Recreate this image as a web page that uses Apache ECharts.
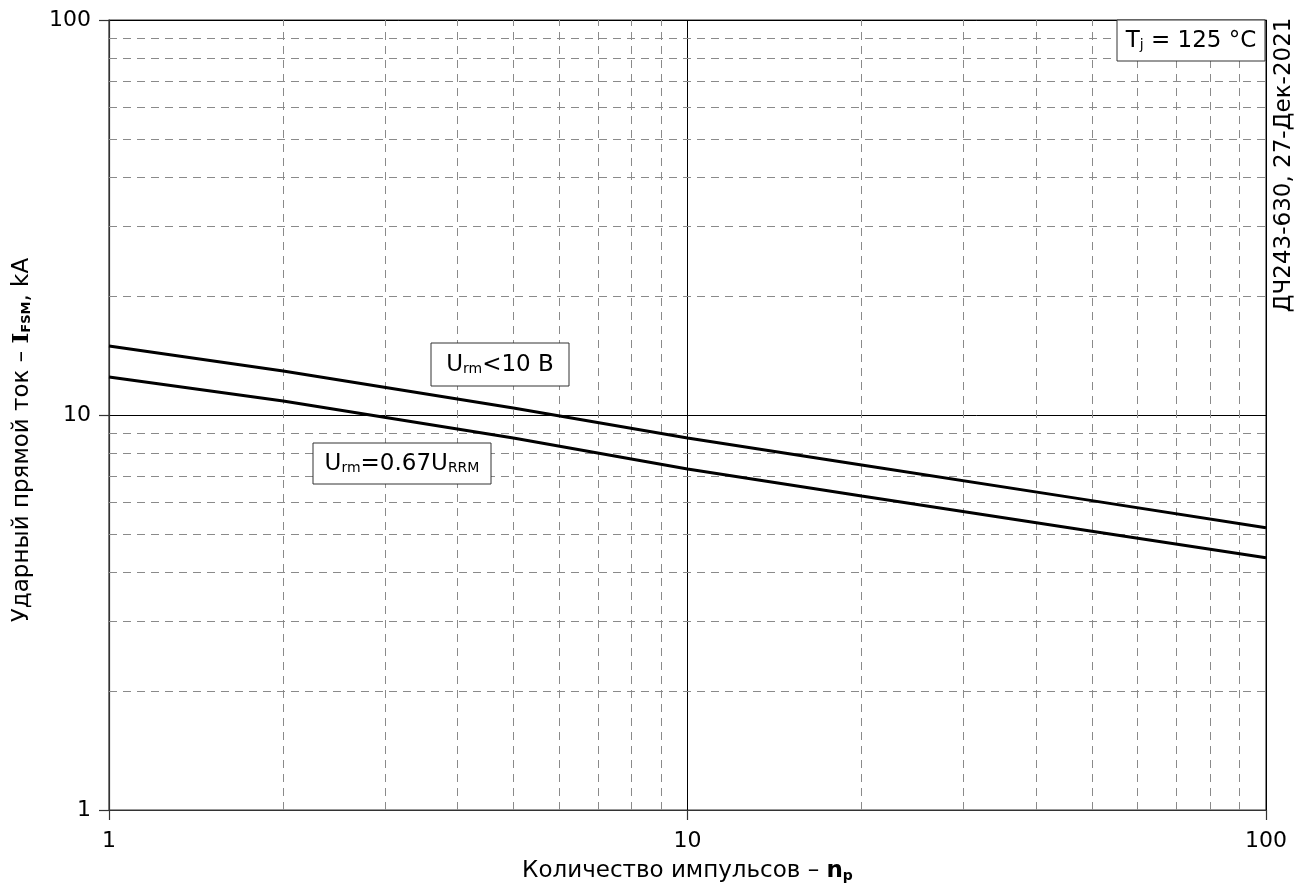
<!DOCTYPE html>
<html>
<head>
<meta charset="utf-8">
<script src="https://cdn.jsdelivr.net/npm/echarts@6/dist/echarts.min.js"></script>
<style>
html,body{margin:0;padding:0;background:#fff;}
#chart{width:1309px;height:896px;}
</style>
</head>
<body>
<div id="chart"></div>
<script>
// Data
var pulses = [1, 2, 5, 10, 20, 50, 100];
var iLow = [14.95, 12.92, 10.42, 8.75, 7.47, 6.07, 5.18];    // Urm < 10 V
var iRated = [12.48, 10.85, 8.75, 7.30, 6.24, 5.08, 4.35];   // Urm = 0.67 URRM
var minorTicks = [2, 3, 4, 5, 6, 7, 8, 9, 20, 30, 40, 50, 60, 70, 80, 90];
var xTickLabels = ['1', '10', '100'];
var yTickLabels = ['1', '10', '100'];

var FONT = 'DejaVu Sans';
var FS = 23;
var chart = echarts.init(document.getElementById('chart'));

function pairs(xs, ys) { return xs.map(function (x, i) { return [x, ys[i]]; }); }

var minorLines = [];
minorTicks.forEach(function (v) { minorLines.push({ xAxis: v }); });
minorTicks.forEach(function (v) { minorLines.push({ yAxis: v }); });

var subStyle = { fontFamily: FONT, fontSize: 14, fill: '#000', verticalAlign: 'bottom', padding: [9, 0, 0, 0] };
var mainStyle = { fontFamily: FONT, fontSize: FS, fill: '#000' };

var option = {
  animation: false,
  backgroundColor: '#fff',
  grid: { left: 109, right: 43, top: 20, bottom: 86, show: true, borderColor: '#333', borderWidth: 1.2, backgroundColor: 'transparent' },
  xAxis: {
    type: 'log', logBase: 10, min: 1, max: 100,
    axisLine: { show: true, lineStyle: { color: '#333', width: 1.2 } },
    axisTick: { show: true, length: 10, lineStyle: { color: '#333', width: 1.2 } },
    minorTick: { show: false },
    splitLine: { show: true, lineStyle: { color: '#000', width: 1 } },
    axisLabel: { fontFamily: FONT, fontSize: 22, color: '#000', margin: 20,
      formatter: function (v) { var s = String(Math.round(v)); return xTickLabels.indexOf(s) >= 0 ? s : ''; } },
    name: '{t|Количество импульсов – }{b|n}{s|p}',
    nameLocation: 'middle', nameGap: 50,
    nameTextStyle: { fontFamily: FONT, fontSize: FS, color: '#000',
      rich: {
        t: { fontFamily: FONT, fontSize: FS, color: '#000' },
        b: { fontFamily: FONT, fontSize: FS, fontWeight: 'bold', color: '#000' },
        s: { fontFamily: FONT, fontSize: 14, fontWeight: 'bold', color: '#000', verticalAlign: 'bottom', padding: [9, 0, 0, 0] }
      } }
  },
  yAxis: {
    type: 'log', logBase: 10, min: 1, max: 100,
    axisLine: { show: true, lineStyle: { color: '#333', width: 1.2 } },
    axisTick: { show: true, length: 10, lineStyle: { color: '#333', width: 1.2 } },
    minorTick: { show: false },
    splitLine: { show: true, lineStyle: { color: '#000', width: 1 } },
    axisLabel: { fontFamily: FONT, fontSize: 22, color: '#000', margin: 18,
      formatter: function (v) { var s = String(Math.round(v)); return yTickLabels.indexOf(s) >= 0 ? s : ''; } }
  },
  series: [
    {
      type: 'line', data: [], silent: true,
      markLine: {
        silent: true, symbol: 'none', label: { show: false },
        lineStyle: { type: [8, 6], color: '#8a8a8a', width: 1 },
        data: minorLines
      }
    },
    {
      type: 'line', data: pairs(pulses, iLow), showSymbol: false, symbol: 'none',
      lineStyle: { color: '#000', width: 3 }, z: 5
    },
    {
      type: 'line', data: pairs(pulses, iRated), showSymbol: false, symbol: 'none',
      lineStyle: { color: '#000', width: 3 }, z: 5
    }
  ],
  graphic: [
    { type: 'text', x: 22, y: 440, rotation: Math.PI / 2, z: 11,
      style: { text: '{t|Ударный прямой ток – }{b|I}{s|FSM}{t|, kA}', align: 'center', verticalAlign: 'middle',
        rich: {
          t: mainStyle,
          b: { fontFamily: 'DejaVu Serif', fontSize: FS, fontWeight: 'bold', fill: '#000' },
          s: { fontFamily: FONT, fontSize: 13, fontWeight: 'bold', fill: '#000', verticalAlign: 'bottom', padding: [9, 0, 0, 0] }
        } } },
    { type: 'rect', shape: { x: 431, y: 343, width: 138, height: 43 }, style: { fill: '#fff', stroke: '#333', lineWidth: 1 }, z: 10 },
    { type: 'text', x: 500, y: 365, z: 11,
      style: { text: '{m|U}{s|rm}{m|<10 В}', align: 'center', verticalAlign: 'middle',
        rich: { m: mainStyle, s: subStyle } } },
    { type: 'rect', shape: { x: 313, y: 443, width: 178, height: 41 }, style: { fill: '#fff', stroke: '#333', lineWidth: 1 }, z: 10 },
    { type: 'text', x: 402, y: 464, z: 11,
      style: { text: '{m|U}{s|rm}{m|=0.67U}{s|RRM}', align: 'center', verticalAlign: 'middle',
        rich: { m: mainStyle, s: subStyle } } },
    { type: 'rect', shape: { x: 1117, y: 20, width: 148, height: 41 }, style: { fill: '#fff', stroke: '#333', lineWidth: 1 }, z: 10 },
    { type: 'text', x: 1191, y: 41, z: 11,
      style: { text: '{m|T}{s|j}{m| = 125 °C}', align: 'center', verticalAlign: 'middle',
        rich: { m: mainStyle, s: subStyle } } },
    { type: 'text', x: 1284, y: 165, rotation: Math.PI / 2, z: 11,
      style: { text: 'ДЧ243-630, 27-Дек-2021', align: 'center', verticalAlign: 'middle', fontFamily: FONT, fontSize: FS, fill: '#000' } }
  ]
};
chart.setOption(option);
</script>
</body>
</html>
